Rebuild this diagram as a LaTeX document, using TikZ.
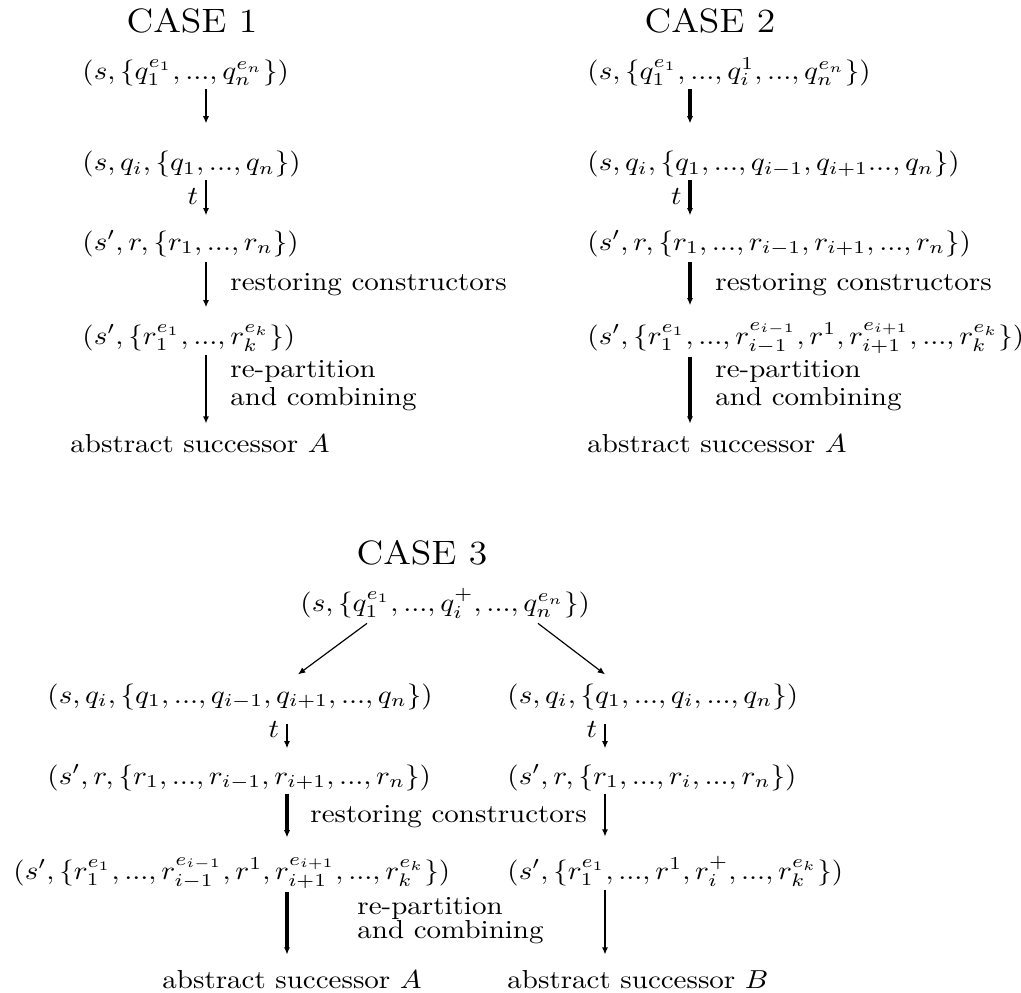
\documentclass[tikz,border=0pt]{standalone}
\usepackage{amsmath}
\usetikzlibrary{arrows.meta,positioning,calc}
\tikzset{
  flow/.style={>={Latex[length=2.8pt,width=2.4pt]},line width=0.8pt},
  heavy/.style={flow,line width=1.2pt},
  slim/.style={flow,line width=0.45pt},
  st/.style={anchor=base west,inner sep=1pt,xscale=1.115},
  lbl/.style={st,align=left},
  ttl/.style={anchor=base,inner sep=1pt,xscale=1.115,font=\fontsize{13}{15}\selectfont},
  tlab/.style={left,inner sep=2.3pt,xscale=1.115,pos=0.35},
}
\begin{document}
\begin{tikzpicture}[x=0.3846pt,y=-0.3846pt]
\useasboundingbox (0,0) rectangle (1021,992);
\coordinate (k1) at (206,0);
\coordinate (k2) at (690,0);
\coordinate (k3l) at (287,0);
\coordinate (k3r) at (605,0);

\node[ttl] (case1) at (192,32) {CASE 1};
\node[st] (a1) at (79,79) {$(s,\{q_1^{e_1},...,q_n^{e_n}\})$};
\node[st] (a2) at (79,170.5) {$(s,q_i,\{q_1,...,q_n\})$};
\node[st] (a3) at (79,250) {$(s',r,\{r_1,...,r_n\})$};
\node[st] (a4) at (79,344) {$(s',\{r_1^{e_1},...,r_k^{e_k}\})$};
\node[st] (aA) at (67,452) {abstract successor $A$};
\node[st] (arc) at (227,290) {restoring constructors};
\node[lbl,anchor=north west] (arp) at (227,357) {re-partition\\[-1.2pt]and combining};
\draw[flow,->,shorten >=9.4pt] (k1 |- a1.south) -- (k1 |- a2.north);
\draw[flow,->,shorten >=4.6pt] (k1 |- a2.south) -- (k1 |- a3.north) node[tlab] {$t$};
\draw[flow,->,shorten <=1pt,shorten >=5.4pt] (k1 |- a3.south) -- (k1 |- a4.north);
\draw[flow,->,shorten >=2.8pt] (k1 |- a4.south) -- (k1 |- aA.north);

\node[ttl] (case2) at (710,32) {CASE 2};
\node[st] (b1) at (584,79) {$(s,\{q_1^{e_1},...,q_i^1,...,q_n^{e_n}\})$};
\node[st] (b2) at (584,170.5) {$(s,q_i,\{q_1,...,q_{i-1},q_{i+1}...,q_n\})$};
\node[st] (b3) at (584,250) {$(s',r,\{r_1,...,r_{i-1},r_{i+1},...,r_n\})$};
\node[st] (b4) at (584,344) {$(s',\{r_1^{e_1},...,r_{i-1}^{e_{i-1}},r^1,r_{i+1}^{e_{i+1}},...,r_k^{e_k}\})$};
\node[st] (bA) at (584,452) {abstract successor $A$};
\node[st] (brc) at (712,290) {restoring constructors};
\node[lbl,anchor=north west] (brp) at (712,357) {re-partition\\[-1.2pt]and combining};
\draw[heavy,->,shorten >=9.4pt] (k2 |- b1.south) -- (k2 |- b2.north);
\draw[heavy,->,shorten >=4.6pt] (k2 |- b2.south) -- (k2 |- b3.north) node[tlab] {$t$};
\draw[heavy,->,shorten <=1pt,shorten >=5.4pt] (k2 |- b3.south) -- (k2 |- b4.north);
\draw[heavy,->,shorten >=2.8pt] (k2 |- b4.south) -- (k2 |- bA.north);

\node[ttl] (case3) at (422,564) {CASE 3};
\node[st] (c0) at (297,611) {$(s,\{q_1^{e_1},...,q_i^+,...,q_n^{e_n}\})$};
\node[st] (l2) at (44,703) {$(s,q_i,\{q_1,...,q_{i-1},q_{i+1},...,q_n\})$};
\node[st] (l3) at (44,784) {$(s',r,\{r_1,...,r_{i-1},r_{i+1},...,r_n\})$};
\node[st] (l4) at (10,879) {$(s',\{r_1^{e_1},...,r_{i-1}^{e_{i-1}},r^1,r_{i+1}^{e_{i+1}},...,r_k^{e_k}\})$};
\node[st] (lA) at (159,988) {abstract successor $A$};
\node[st] (r2) at (504,703) {$(s,q_i,\{q_1,...,q_i,...,q_n\})$};
\node[st] (r3) at (504,784) {$(s',r,\{r_1,...,r_i,...,r_n\})$};
\node[st] (r4) at (504,879) {$(s',\{r_1^{e_1},...,r^1,r_i^+,...,r_k^{e_k}\})$};
\node[st] (rB) at (504,988) {abstract successor $B$};
\node[st] (crc) at (307,822) {restoring constructors};
\node[lbl,anchor=north west] (crp) at (354,894) {re-partition\\[-2.8pt]and combining};
\draw[slim,->] ($(c0.south west)+(70,2)$) -- ($(l2.north west)+(254,-6)$);
\draw[slim,->] ($(c0.south west)+(241,2)$) -- ($(r2.north west)+(101,-6)$);
\draw[flow,->,shorten <=4.2pt,shorten >=5pt] (k3l |- l2.south) -- (k3l |- l3.north) node[tlab] {$t$};
\draw[heavy,->,shorten >=6.5pt] (k3l |- l3.south) -- (k3l |- l4.north);
\draw[heavy,->,shorten >=4.7pt] (k3l |- l4.south) -- (k3l |- lA.north);
\draw[flow,->,shorten <=4.2pt,shorten >=5pt] (k3r |- r2.south) -- (k3r |- r3.north) node[tlab] {$t$};
\draw[flow,->,shorten >=6.5pt] (k3r |- r3.south) -- (k3r |- r4.north);
\draw[flow,->,shorten >=4.7pt] (k3r |- r4.south) -- (k3r |- rB.north);
\end{tikzpicture}
\end{document}
